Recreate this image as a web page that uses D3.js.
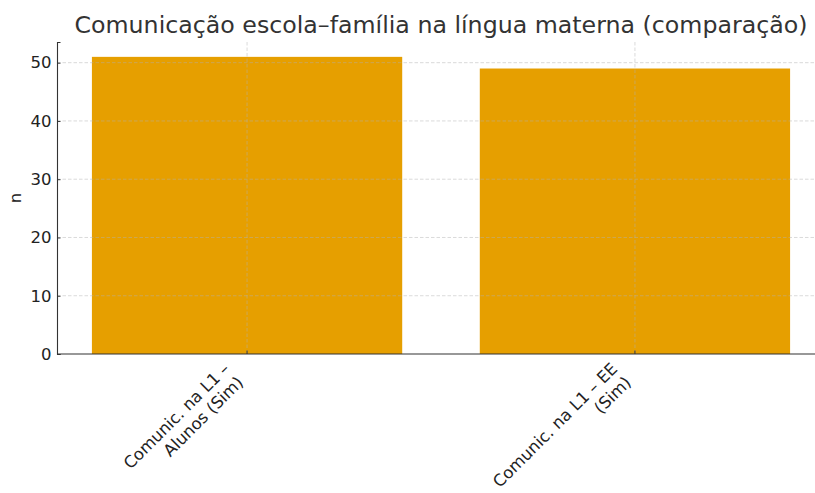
<!DOCTYPE html>
<html><head><meta charset="utf-8">
<script src="https://cdn.jsdelivr.net/npm/d3@7"></script>
<style>body{margin:0;background:#fff}svg{display:block;font-family:"DejaVu Sans",sans-serif}</style>
</head><body><svg id="c" width="815" height="493"></svg>
<script>
const categories = [["Comunic. na L1 –","Alunos (Sim)"],["Comunic. na L1 – EE","(Sim)"]];
const values = [51, 49];
const yTicks = [0,10,20,30,40,50];
const title = "Comunicação escola–família na língua materna (comparação)";
const yLabel = "n";

const svg = d3.select("#c");
const L = 57, R = 825, T = 42, B = 354;
const x = d3.scaleLinear().domain([-0.49, 1.49]).range([L, R]);
const y = d3.scaleLinear().domain([0, 53.55]).range([B, T]);
const bw = x(0.4) - x(-0.4);

svg.append("g").selectAll("rect").data(values).join("rect")
  .attr("x", (d,i)=>x(i)-bw/2).attr("width", bw)
  .attr("y", d=>y(d)).attr("height", d=>B-y(d))
  .attr("fill", "#E69F00");

const g = svg.append("g").attr("stroke","#b0b0b0").attr("stroke-opacity",0.6).attr("stroke-dasharray","3.5,2").attr("stroke-width",0.8);
yTicks.forEach(t=>{ if(t>0) g.append("line").attr("x1",L).attr("x2",R).attr("y1",y(t)).attr("y2",y(t)); });
values.forEach((d,i)=>g.append("line").attr("x1",x(i)).attr("x2",x(i)).attr("y1",T).attr("y2",B));

const fs = 16.5;
const ya = svg.append("g").attr("transform",`translate(${L},0)`)
  .call(d3.axisLeft(y).tickValues(yTicks).tickSize(-3.5).tickPadding(5.5).tickFormat(d3.format("d")));
ya.select(".domain").attr("stroke","#333").attr("stroke-width",1.1);
ya.selectAll(".tick line").attr("stroke","#333");
ya.selectAll("text").style("font-size",fs+"px").attr("fill","#222").style("font-family","DejaVu Sans");

svg.append("line").attr("x1",L).attr("x2",R).attr("y1",B).attr("y2",B).attr("stroke","#333").attr("stroke-width",1.1);
values.forEach((d,i)=>svg.append("line").attr("x1",x(i)).attr("x2",x(i)).attr("y1",B).attr("y2",B-3.5).attr("stroke","#333"));

const lh = fs*1.17, asc = fs*0.76, desc = fs*0.24;
categories.forEach((lines,i)=>{
  const h2 = lh*(lines.length-1) + desc;
  const ox = x(i) - 0.7071*h2, oy = B + 7 + 0.7071*asc;
  const t = svg.append("text").attr("transform",`translate(${ox},${oy}) rotate(-45)`)
    .attr("text-anchor","end").style("font-size",fs+"px").attr("fill","#222");
  lines.forEach((s,j)=>t.append("tspan").attr("x",0).attr("y",j*lh).text(s));
});

svg.append("text").attr("transform",`translate(21,${(T+B)/2}) rotate(-90)`)
  .attr("text-anchor","middle").style("font-size",fs+"px").attr("fill","#222").text(yLabel);

svg.append("text").attr("x",(L+R)/2).attr("y",33).attr("text-anchor","middle")
  .style("font-size","23.7px").attr("fill","#333").text(title);
</script></body></html>
